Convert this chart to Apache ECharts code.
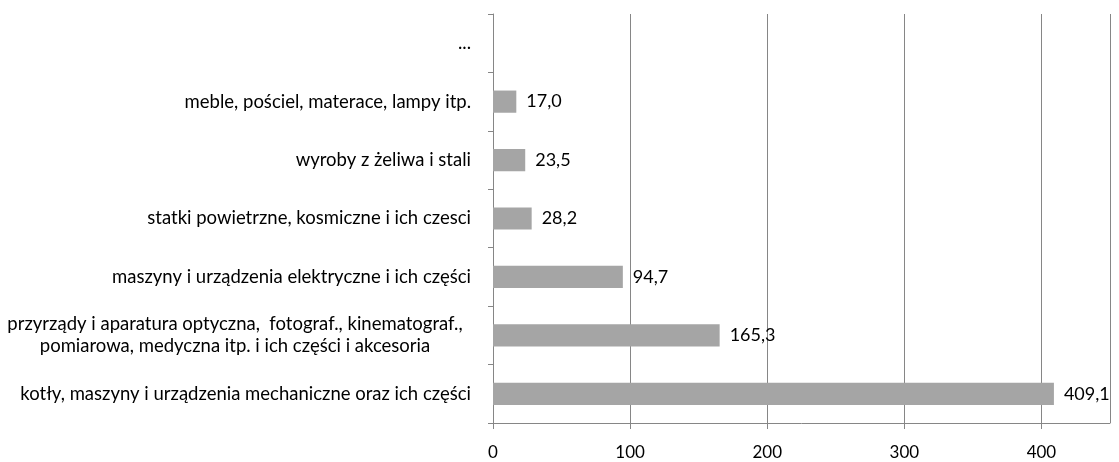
<!DOCTYPE html>
<html>
<head>
<meta charset="utf-8">
<script src="https://cdn.jsdelivr.net/npm/echarts@6/dist/echarts.min.js"></script>
<style>
  html, body { margin: 0; padding: 0; background: #fff; }
  #chart { width: 1119px; height: 462px; }
</style>
</head>
<body>
<div id="chart"></div>
<script>
// categories listed bottom to top
const categories = [
  "kotły, maszyny i urządzenia mechaniczne oraz ich części",
  "przyrządy i aparatura optyczna,  fotograf., kinematograf.,\npomiarowa, medyczna itp. i ich części i akcesoria",
  "maszyny i urządzenia elektryczne i ich części",
  "statki powietrzne, kosmiczne i ich czesci",
  "wyroby z żeliwa i stali",
  "meble, pościel, materace, lampy itp.",
  "..."
]
const values = [409.1, 165.3, 94.7, 28.2, 23.5, 17.0, null]

const font = "Lato, \"Open Sans\", sans-serif"
const gridColor = "#868686"

const chart = echarts.init(document.getElementById("chart"))

chart.setOption({
  animation: false,
  backgroundColor: "#fff",
  grid: { left: 493, right: 9, top: 14, bottom: 39, containLabel: false, outerBoundsMode: "none" },
  xAxis: {
    type: "value",
    min: 0,
    max: 450,
    interval: 100,
    axisLine: { show: true, lineStyle: { color: gridColor, width: 1 } },
    axisTick: { show: true, length: 6, lineStyle: { color: gridColor } },
    splitLine: { show: true, lineStyle: { color: gridColor, width: 1 } },
    axisLabel: {
      color: "#000",
      fontSize: 17,
      fontFamily: font,
      margin: 21,
      showMaxLabel: false
    }
  },
  yAxis: {
    type: "category",
    data: categories,
    axisLine: { show: true, lineStyle: { color: gridColor, width: 1 } },
    axisTick: { show: true, length: 5, inside: false, lineStyle: { color: gridColor } },
    axisLabel: {
      color: "#000",
      fontSize: 18.5,
      fontFamily: font,
      margin: 22,
      lineHeight: 22,
      formatter: function (v) {
        if (v.indexOf("\n") < 0) return v
        return v.split("\n").map(l => "{c|" + l + "}").join("\n")
      },
      rich: {
        c: { width: 472, align: "center", fontSize: 18.5, fontFamily: font, color: "#000", lineHeight: 22 }
      }
    }
  },
  series: [{
    type: "bar",
    data: values,
    barCategoryGap: "62%",
    itemStyle: { color: "#a5a5a5" },
    label: {
      show: true,
      position: "right",
      distance: 10,
      color: "#000",
      fontSize: 18,
      fontFamily: font,
      formatter: p => p.value == null ? "" : p.value.toFixed(1).replace(".", ",")
    }
  }]
})
</script>
</body>
</html>
